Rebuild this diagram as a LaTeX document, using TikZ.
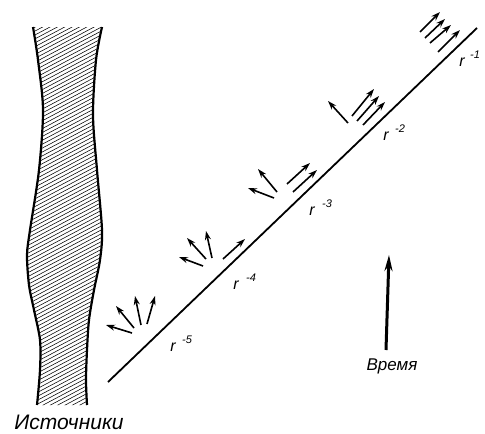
\documentclass[tikz,border=0pt]{standalone}
\usepackage{fontspec}
\setmainfont{Liberation Sans}
\usetikzlibrary{arrows.meta}
\tikzset{
  ray/.style={line width=1.6pt,-{Stealth[length=9pt,width=6pt]}},
  edge/.style={line width=2.2pt},
  hatch/.style={line width=0.55pt},
  rbase/.style={font=\fontsize{16}{16}\selectfont\itshape, inner sep=0pt},
  rexp/.style={font=\fontsize{11}{11}\selectfont\itshape, inner sep=0pt},
}
\begin{document}
\begin{tikzpicture}[x=1pt,y=-1pt]
\useasboundingbox (0,0) rectangle (485,434);
% source band
\def\leftedge{(33,27) (38,60) (43,110) (39,170) (30,230) (27,255) (29,285) (34,310) (40,340) (40,370) (37,405)}
\def\rightedge{(87,405) (86,380) (87,350) (89,320) (94,290) (100,260) (102,230) (97,170) (93,115) (96,60) (102,27)}
\begin{scope}
  \clip plot[smooth] coordinates {\leftedge} -- plot[smooth] coordinates {\rightedge} -- cycle;
  \foreach \i in {0,...,130} {
    \draw[hatch] (20,\i*3.9) -- ++(100,-53);
  }
\end{scope}
\draw[edge] plot[smooth] coordinates {\leftedge};
\draw[edge] plot[smooth] coordinates {\rightedge};
\node[font=\fontsize{21}{21}\selectfont\itshape, inner sep=0pt] (src) at (69,422) {Источники};
% main line
\coordinate (L0) at (108,382);
\coordinate (L1) at (477,28);
\draw[line width=1.8pt] (L0) -- (L1);
% labels
\node[rbase] (r5) at (173,347) {r};
\node[rexp]  (e5) at (187,340) {-5};
\node[rbase] (r4) at (236,285) {r};
\node[rexp]  (e4) at (251,278) {-4};
\node[rbase] (r3) at (312,211) {r};
\node[rexp]  (e3) at (327,204) {-3};
\node[rbase] (r2) at (386,136) {r};
\node[rexp]  (e2) at (400,129) {-2};
\node[rbase] (r1) at (462,62) {r};
\node[rexp]  (e1) at (475,55) {-1};
% group 5
\draw[ray] (132,333) -- (106,325);
\draw[ray] (134,328) -- (116,306);
\draw[ray] (141,325) -- (135,296);
\draw[ray] (147,324) -- (155,296);
% group 4
\draw[ray] (203,266) -- (179,257);
\draw[ray] (206,259) -- (187,238);
\draw[ray] (212,258) -- (206,231);
\draw[ray] (223,259) -- (245,239);
% group 3
\draw[ray] (274,198) -- (248,188);
\draw[ray] (277,192) -- (258,169);
\draw[ray] (287,184) -- (310,163);
\draw[ray] (293,192) -- (317,170);
% group 2
\draw[ray] (348,123) -- (328,101);
\draw[ray] (352,116) -- (374,89);
\draw[ray] (357,121) -- (379,96);
\draw[ray] (363,125) -- (385,102);
% group 1
\draw[ray] (420,32) -- (440,12);
\draw[ray] (425,38) -- (445,19);
\draw[ray] (430,43) -- (451,25);
\draw[ray] (438,52) -- (460,30);
% time arrow
\coordinate (T0) at (386,350);
\coordinate (T1) at (389,255);
\draw[line width=3pt,-{Stealth[length=16pt,width=8pt]}] (T0) -- (T1);
\node[font=\fontsize{17}{17}\selectfont\itshape, inner sep=0pt] (time) at (392,366) {Время};
\end{tikzpicture}
\end{document}
